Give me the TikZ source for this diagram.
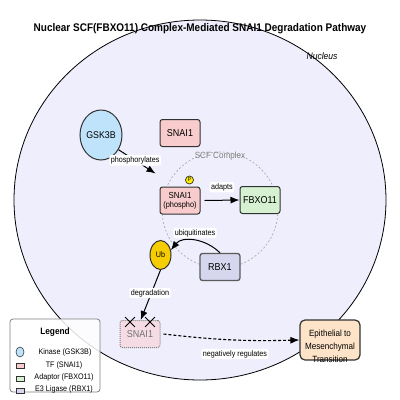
\documentclass[tikz,border=0pt]{standalone}
\usepackage{fontspec}
\setmainfont{Liberation Sans}[FakeStretch=0.9]
\usetikzlibrary{arrows.meta,shapes.geometric,shapes.misc,calc}
\definecolor{nucbg}{RGB}{238,238,252}
\definecolor{kinfill}{RGB}{190,227,250}
\definecolor{tffill}{RGB}{248,204,204}
\definecolor{degfill}{RGB}{245,220,228}
\definecolor{adfill}{RGB}{214,240,210}
\definecolor{e3fill}{RGB}{214,214,238}
\definecolor{emtfill}{RGB}{253,228,200}
\definecolor{ubfill}{RGB}{245,205,0}
\definecolor{pfill}{RGB}{255,238,0}
\definecolor{edge}{RGB}{50,50,50}
\newcommand{\fsz}[2]{\fontsize{#1}{#2}\selectfont}
\tikzset{
  box/.style={draw=edge, line width=1pt, rounded corners=2.5pt, minimum width=40pt, minimum height=27pt, inner sep=1pt, align=center, font=\fsz{10}{11}},
  tfbox/.style={box, fill=tffill},
  adbox/.style={box, fill=adfill},
  e3box/.style={box, fill=e3fill, draw=edge!80, line width=1.3pt},
  degbox/.style={box, fill=degfill, draw=gray, densely dotted, text=gray!90!black},
  kinase/.style={ellipse, draw=edge, line width=1pt, fill=kinfill, minimum width=42pt, minimum height=50pt, inner sep=0pt, font=\fsz{9.8}{11}},
  ubnode/.style={ellipse, draw=edge, line width=1pt, fill=ubfill, minimum width=21pt, minimum height=29pt, inner sep=0pt, font=\fsz{8}{9}},
  pbadge/.style={circle, draw=edge, line width=0.7pt, fill=pfill, minimum size=8pt, inner sep=0pt, font=\fsz{5.5}{6}},
  lbl/.style={fill=white, rounded corners=2pt, inner sep=1.5pt, font=\fsz{8}{9}},
  arr/.style={-{Latex[length=9pt,width=7pt]}, line width=1pt, black},
  xmark/.style={cross out, draw=black, line width=0.8pt, minimum size=9pt, inner sep=0pt},
  legicon/.style={draw=edge, line width=0.6pt, minimum width=8pt, minimum height=5pt, inner sep=0pt},
  legtext/.style={font=\fsz{8}{9}}
}
\begin{document}
\begin{tikzpicture}[x=1pt,y=-1pt]
\useasboundingbox (0,0) rectangle (400,400);
\fill[white] (0,0) rectangle (400,400);
% nucleus
\draw[fill=nucbg, line width=0.8pt] (200,200) ellipse [x radius=186, y radius=180];
\node[font=\fsz{11.1}{12}\bfseries] (title) at (200,29) {Nuclear SCF(FBXO11) Complex-Mediated SNAI1 Degradation Pathway};
\node[font=\fsz{9.5}{11}\itshape, anchor=east] (nucleus) at (341,56) {Nucleus};
% SCF complex
\draw[gray!70, line width=0.6pt, dash pattern=on 2pt off 2pt] (220,210) circle [radius=58];
\node[text=gray, font=\fsz{9}{10}] (scf) at (220,156) {SCF Complex};
% nodes
\node[kinase] (gsk) at (101,135) {GSK3B};
\node[tfbox] (snai) at (180,133) {SNAI1};
\node[tfbox, font=\fsz{8.8}{10}] (snaip) at (180,200.5) {SNAI1\\[-1pt]{\fsz{8.2}{9}(phospho)}};
\node[pbadge] (p) at (189.5,180) {P};
\node[adbox] (fbxo) at (260,200) {FBXO11};
\node[e3box] (rbx) at (220,267) {RBX1};
\node[ubnode] (ub) at (160.5,255) {Ub};
\node[degbox] (snaid) at (140,334) {SNAI1};
\node[xmark] (x1) at (130,322) {};
\node[xmark] (x2) at (150,322) {};
\node[draw=edge, line width=1.2pt, fill=emtfill, rounded corners=5pt, minimum width=60pt, minimum height=40pt] (emt) at (330,340) {};
\node[font=\fsz{9}{13}, align=center] (emttext) at (330,346.5) {Epithelial to\\Mesenchymal\\Transition};
% connectors
\draw[arr] (gsk.-40) -- (155.5,173.5) node[lbl, pos=0.45] (l1) {phosphorylates};
\draw[arr] (snaip.east) ++(4,0) coordinate (a1) (a1) -- (fbxo.west) node[lbl, midway, yshift=13pt] (l2) {adapts};
\draw[arr] (rbx.north) .. controls (205,238) and (182,236) .. (ub.25);
\node[lbl] (l3) at (195,233) {ubiquitinates};
\draw[arr] (ub.south) -- ($(snaid.north)+(0.7,0)$);
\node[lbl] (l4) at (150,293) {degradation};
\draw[-{Latex[length=9pt,width=7pt]}, line width=1.1pt, dash pattern=on 3pt off 2pt] (snaid.east) ++(3,0) coordinate (a2) (a2) to[bend right=4] (emt.west);
\node[lbl] (l5) at (235,354) {negatively regulates};
% legend
\draw[draw=gray, line width=0.8pt, fill=white, fill opacity=0.85, rounded corners=3pt] (10,319) rectangle (100,392);
\node[font=\fsz{9.2}{10}\bfseries] (legt) at (55,332) {Legend};
\node[ellipse, draw=edge, line width=0.6pt, fill=kinfill, minimum width=8pt, minimum height=10pt, inner sep=0pt] (li1) at (20,352) {};
\node[legtext] (lt1) at (65,352) {Kinase (GSK3B)};
\node[legicon, fill=tffill] (li2) at (20,366) {};
\node[legtext] (lt2) at (64,365) {TF (SNAI1)};
\node[legicon, fill=adfill] (li3) at (20,378.5) {};
\node[legtext] (lt3) at (64,377.5) {Adaptor (FBXO11)};
\node[legicon, fill=e3fill] (li4) at (20,391) {};
\node[legtext] (lt4) at (64,389.5) {E3 Ligase (RBX1)};
\end{tikzpicture}
\end{document}
